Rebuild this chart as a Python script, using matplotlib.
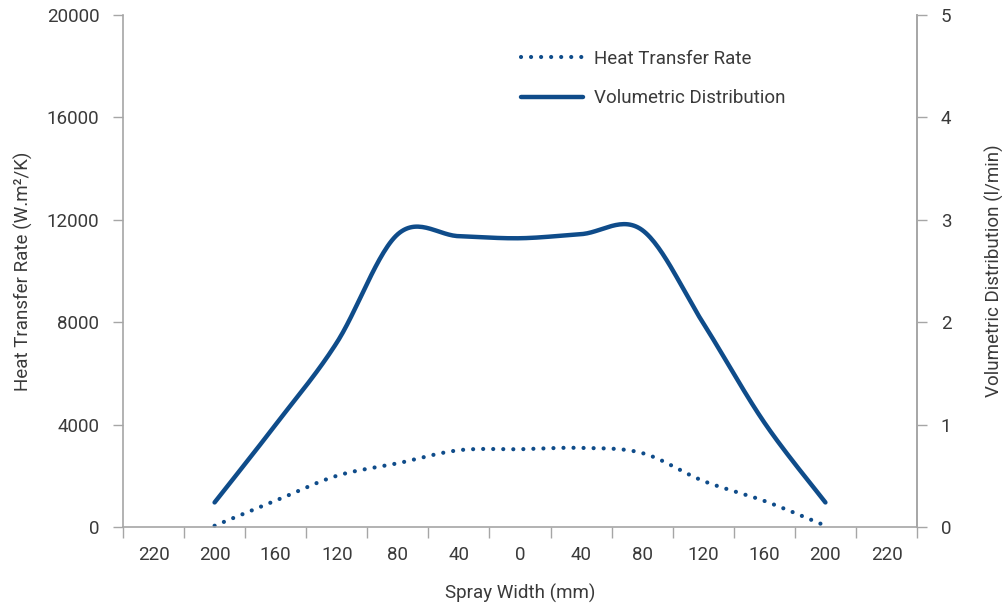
import numpy as np
import matplotlib.pyplot as plt
from matplotlib.lines import Line2D

plt.rcParams['font.family'] = ['Roboto', 'DejaVu Sans']

# spray width categories along the x axis (left edge to right edge)
categories = ['220', '200', '160', '120', '80', '40', '0', '40', '80', '120', '160', '200', '220']
# which categories carry a measured point
point_idx = [1, 2, 3, 4, 5, 6, 7, 8, 9, 10, 11]
heat_transfer = [50, 1030, 2000, 2490, 3000, 3040, 3090, 2890, 1800, 1020, 50]   # W.m2/K
volumetric = [0.24, 1.00, 1.80, 2.86, 2.84, 2.82, 2.86, 2.90, 1.99, 1.02, 0.24]  # l/min

BLUE = '#0f4c8a'
GREY = '#a6a6a6'
TEXT = '#3a3a3a'


def smooth(x, y, n=30):
    """Catmull-Rom curve through the points (spreadsheet style smoothed line)."""
    x = np.asarray(x, float)
    y = np.asarray(y, float)
    px = np.r_[x[0], x, x[-1]]
    py = np.r_[y[0], y, y[-1]]
    xs, ys = [], []
    t = np.linspace(0, 1, n, endpoint=False)
    h00 = 2 * t**3 - 3 * t**2 + 1
    h10 = t**3 - 2 * t**2 + t
    h01 = -2 * t**3 + 3 * t**2
    h11 = t**3 - t**2
    for i in range(1, len(px) - 2):
        mx0 = (px[i + 1] - px[i - 1]) / 2
        mx1 = (px[i + 2] - px[i]) / 2
        my0 = (py[i + 1] - py[i - 1]) / 2
        my1 = (py[i + 2] - py[i]) / 2
        xs.append(h00 * px[i] + h10 * mx0 + h01 * px[i + 1] + h11 * mx1)
        ys.append(h00 * py[i] + h10 * my0 + h01 * py[i + 1] + h11 * my1)
    xs.append([x[-1]])
    ys.append([y[-1]])
    return np.concatenate(xs), np.concatenate(ys)


fig = plt.figure(figsize=(10.03, 6.05), dpi=100)
ax = fig.add_axes([0.1226, 0.1289, 0.7917, 0.8463])
ax2 = ax.twinx()

hx, hy = smooth(point_idx, heat_transfer)
vx, vy = smooth(point_idx, volumetric)
dotted = (0, (0.01, 2.4))
ax.plot(hx, hy, color=BLUE, lw=3.0, linestyle=dotted, dash_capstyle='round', clip_on=False)
ax2.plot(vx, vy, color=BLUE, lw=3.2, solid_capstyle='round', solid_joinstyle='round', clip_on=False)

ax.set_xlim(-0.5, len(categories) - 0.5)
ax.set_ylim(0, 20000)
ax2.set_ylim(0, 5)
ax.set_yticks(np.arange(0, 20001, 4000))
ax2.set_yticks(np.arange(0, 6, 1))

ax.set_xticks(np.arange(-0.5, len(categories)), labels=[])
ax.set_xticks(np.arange(len(categories)), labels=categories, minor=True)
ax.tick_params(axis='x', which='major', length=8, width=1, color=GREY)
ax.tick_params(axis='x', which='minor', length=0, pad=14, labelsize=13.5, labelcolor=TEXT)
ax.tick_params(axis='y', length=7, width=1, color=GREY, pad=10, labelsize=13.5, labelcolor=TEXT)
ax2.tick_params(axis='y', length=7, width=1, color=GREY, pad=10, labelsize=13.5, labelcolor=TEXT)

for a in (ax, ax2):
    for s in a.spines.values():
        s.set_color(GREY)
        s.set_linewidth(1.2)
    a.spines['top'].set_visible(False)
ax2.spines['left'].set_visible(False)
ax2.spines['bottom'].set_visible(False)

ax.set_xlabel('Spray Width (mm)', fontsize=13.5, color=TEXT, labelpad=14)
ax.set_ylabel('Heat Transfer Rate (W.m\u00b2/K)', fontsize=13.5, color=TEXT, labelpad=10)
ax2.set_ylabel('Volumetric Distribution (l/min)', fontsize=13.5, color=TEXT, labelpad=24)

handles = [
    Line2D([], [], color=BLUE, lw=3.0, linestyle=dotted, dash_capstyle='round'),
    Line2D([], [], color=BLUE, lw=3.2, solid_capstyle='round'),
]
leg = ax2.legend(handles, ['Heat Transfer Rate', 'Volumetric Distribution'],
                 loc='upper left', bbox_to_anchor=(0.48, 0.965), frameon=False,
                 fontsize=13.5, handlelength=3.3, handletextpad=0.6, labelspacing=1.15)
for t in leg.get_texts():
    t.set_color(TEXT)

fig.savefig('out.png', dpi=100)
